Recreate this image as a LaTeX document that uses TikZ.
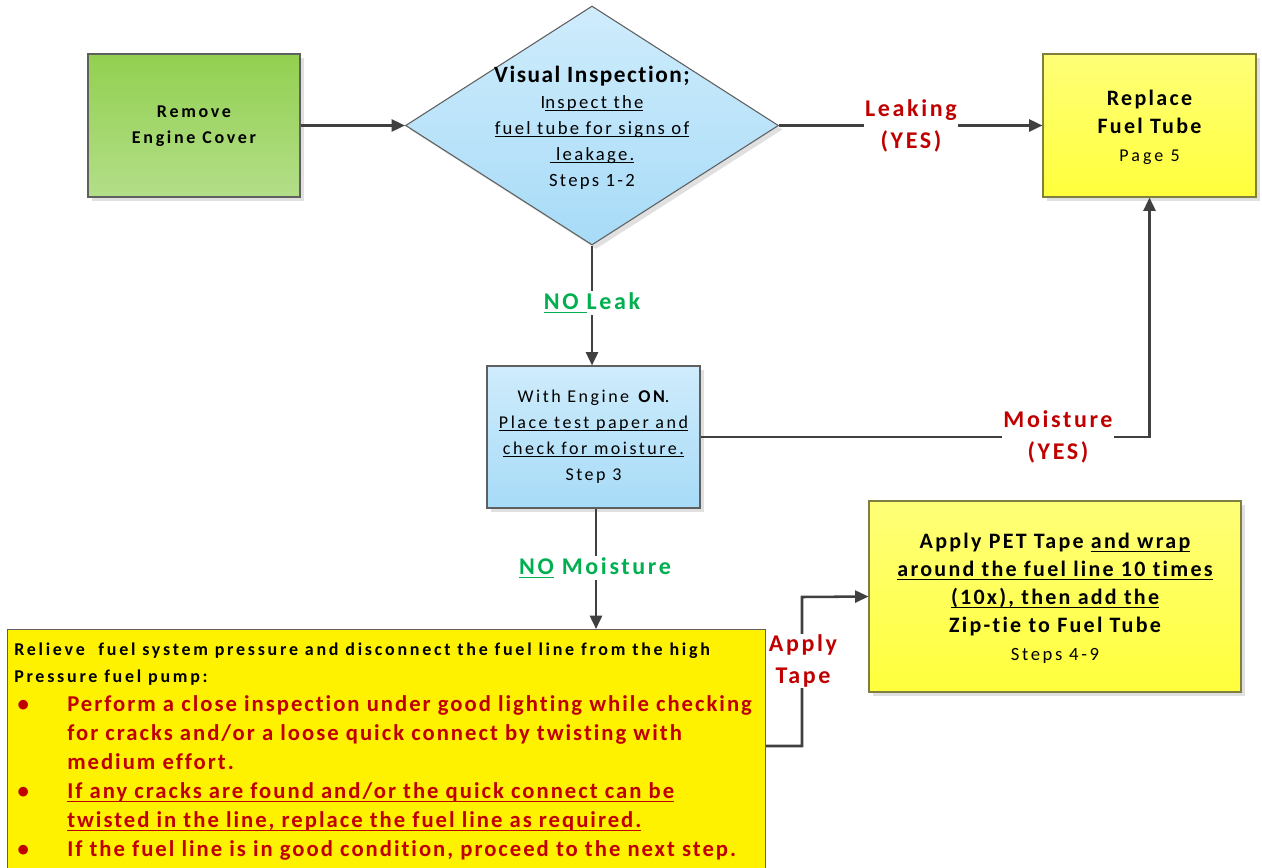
\documentclass[tikz,border=0pt]{standalone}
\usepackage{fontspec}
\setmainfont{Carlito}[Ligatures=NoCommon]
\usetikzlibrary{shapes.geometric,arrows.meta,shadows}
\newlength\myulw
\newcommand{\myul}[1]{\settowidth{\myulw}{#1}\rlap{\rule[-0.17em]{\myulw}{0.065em}}#1}
\newcommand{\lsp}[1]{\addfontfeatures{LetterSpace=#1}}
\definecolor{lineg}{HTML}{404040}
\definecolor{txtred}{HTML}{C00000}
\definecolor{txtgreen}{HTML}{00B050}
\definecolor{grtop}{HTML}{92D050}
\definecolor{grbot}{HTML}{B3DE89}
\definecolor{bltop}{HTML}{CFECFC}
\definecolor{blbot}{HTML}{A7DBF7}
\definecolor{yetop}{HTML}{FFFF78}
\definecolor{yebot}{HTML}{FFFF3C}
\definecolor{bordg}{HTML}{5F5F5F}
\definecolor{bordy}{HTML}{7F7F3F}
\newcommand{\rd}{\fontsize{17}{20.25}\selectfont\bfseries\lsp{8.8}\color{txtred}}
\newcommand{\bul}{\makebox[39.75pt][l]{\rd\hspace{2.5pt}\textbullet}}
\begin{document}
\begin{tikzpicture}[x=0.75pt,y=-0.75pt,
  box/.style={rectangle, draw=bordg, line width=0.8pt, inner sep=0pt,
    general shadow={fill=black!12, shadow xshift=3pt, shadow yshift=-3pt}},
  greenbox/.style={box, top color=grtop, bottom color=grbot},
  bluebox/.style={box, top color=bltop, bottom color=blbot},
  yelbox/.style={box, draw=bordy, top color=yetop, bottom color=yebot},
  diam/.style={diamond, draw=bordg, line width=0.8pt, inner sep=0pt, top color=bltop, bottom color=blbot,
    general shadow={fill=black!12, shadow xshift=3pt, shadow yshift=-3pt}},
  txt/.style={align=center, inner sep=0pt},
  conn/.style={draw=lineg, line width=1.9pt},
  arr/.style={conn, -{Triangle[length=10pt,width=9pt]}},
  lbl/.style={fill=white, inner sep=1pt, align=center, font=\fontsize{18}{23.5}\selectfont\bfseries\lsp{11}},
]
\useasboundingbox (0,0) rectangle (1262,867);

% boxes
\node[greenbox, minimum width=159pt, minimum height=107.25pt] (rem) at (194,125.5) {};
\node[txt, font=\fontsize{13.5}{19.5}\selectfont\bfseries\lsp{15}] at (194,126) {Remove\\Engine Cover};

\node[diam, minimum width=279.75pt, minimum height=179.25pt] (vis) at (592,125.5) {};
\node[txt, font=\fontsize{14}{19.5}\selectfont\lsp{12.2}] (vist) at (592,127.5) {\fontsize{17.5}{19.5}\selectfont\bfseries\lsp{6.5}Visual Inspection;\\
  I\myul{nspect the}\\ \myul{fuel tube for signs of}\\ \myul{\ leakage.}\\ Steps 1-2};

\node[yelbox, minimum width=159.75pt, minimum height=107.25pt] (rep) at (1149.5,125.5) {};
\node[txt, font=\fontsize{16.5}{21}\selectfont\bfseries\lsp{10.5}] at (1149.5,127) {Replace\\ Fuel Tube\\ \fontsize{13.5}{21}\selectfont\mdseries\lsp{17}Page 5};

\node[bluebox, minimum width=159.75pt, minimum height=106.5pt] (s3) at (593.5,437) {};
\node[txt, font=\fontsize{13.5}{19.5}\selectfont\lsp{14}] at (593.5,436.5) {With Engine \textbf{ON}.\\ \myul{Place test paper and}\\ \myul{check for moisture.}\\ Step 3};

\node[yelbox, minimum width=279pt, minimum height=143.25pt] (pet) at (1055,596.5) {};
\node[txt, font=\fontsize{16.5}{21}\selectfont\bfseries\lsp{10.3}] at (1055,598) {Apply PET Tape \myul{and wrap}\\ \myul{around the fuel line 10 times}\\ \myul{(10x), then add the}\\ Zip-tie to Fuel Tube\\ \fontsize{14}{21}\selectfont\mdseries\lsp{14}Steps 4-9};

\node[rectangle, draw=bordg, line width=0.8pt, fill=yellow, minimum width=568.5pt, minimum height=191.25pt, anchor=north west] (big) at (7,629) {};
\node[anchor=north west, inner sep=0pt] (bigt) at (14,636) {%
  \fontsize{13.5}{20.25}\selectfont\bfseries
  \begin{tabular}{@{}l@{}l@{}}
  \multicolumn{2}{@{}l@{}}{\lsp{15.2}Relieve\ \ fuel system pressure and disconnect the fuel line from the high}\\
  \multicolumn{2}{@{}l@{}}{\lsp{15.2}Pressure fuel pump:}\\[1.5pt]
  \bul & \rd Perform a close inspection under good lighting while checking\\[1.5pt]
  & \rd for cracks and/or a loose quick connect by twisting with\\[1.5pt]
  & \rd medium effort.\\[1.5pt]
  \bul & \rd\myul{If any cracks are found and/or the quick connect can be}\\[1.5pt]
  & \rd\myul{twisted in the line, replace the fuel line as required.}\\[1.5pt]
  \bul & \rd If the fuel line is in good condition, proceed to the next step.
  \end{tabular}};

% coordinates
\coordinate (c2) at (802,746);
\coordinate (c3) at (802,597);

% connectors
\draw[arr] (rem.east) -- (vis.west);
\draw[arr] (vis.east) -- (rep.west);
\draw[arr] (vis.south) -- (vis.south |- s3.north);
\draw[arr] (s3.east) -| (rep.south);
\draw[arr] (s3.south -| 596,0) -- (big.north -| 596,0);
\draw[arr] (big.east |- c2) -- (c2) -- (c3) -- (pet.west);

% labels
\node[lbl, text=txtred] (l1) at (911,126) {Leaking\\(YES)};
\node[lbl, text=txtgreen] (l2) at (592,303) {\myul{NO }Leak};
\node[lbl, text=txtred] (l3) at (1058,437) {Moisture\\(YES)};
\node[lbl, text=txtgreen] (l4) at (595,568) {\myul{NO} Moisture};
\node[lbl, text=txtred] (l5) at (803,661) {Apply\\Tape};
\end{tikzpicture}
\end{document}
